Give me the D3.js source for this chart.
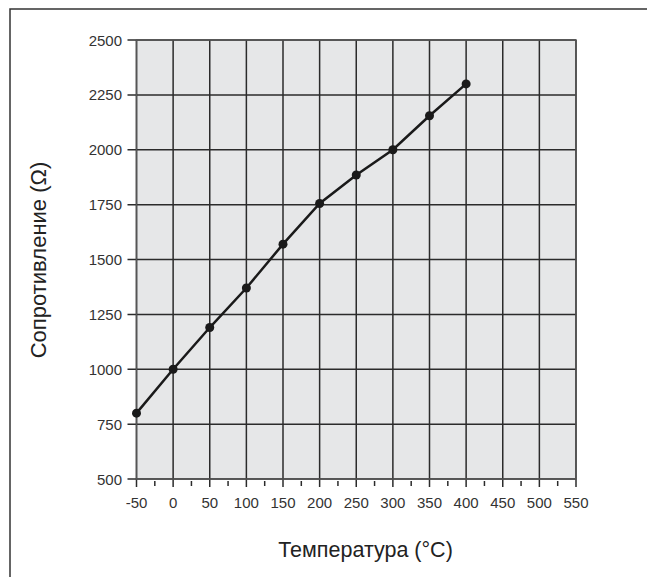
<!DOCTYPE html>
<html>
<head>
<meta charset="utf-8">
<script src="https://cdn.jsdelivr.net/npm/d3@7"></script>
<style>
  body { margin: 0; background: #fff; }
  text { font-family: "Liberation Sans", Arial, sans-serif; }
</style>
</head>
<body>
<script>
var temperatura = [-50, 0, 50, 100, 150, 200, 250, 300, 350, 400];
var soprotivlenie = [800, 1000, 1190, 1370, 1570, 1755, 1885, 2000, 2155, 2300];
var xTicks = [-50, 0, 50, 100, 150, 200, 250, 300, 350, 400, 450, 500, 550];
var xMinor = [-25, 25, 75, 125, 175, 225, 275, 325, 375, 425, 475, 525];
var yTicks = [500, 750, 1000, 1250, 1500, 1750, 2000, 2250, 2500];

var margin = {top: 40, right: 71, bottom: 98, left: 136.5},
    width = 647 - margin.left - margin.right,
    height = 577 - margin.top - margin.bottom;

var data = temperatura.map(function(t, i) { return {t: t, r: soprotivlenie[i]}; });

var svg = d3.select("body").append("svg")
    .attr("width", 647)
    .attr("height", 577);

// outer frame (runs off the right and bottom edges)
svg.append("path")
    .attr("d", "M10,600 L10,9 L660,9")
    .style("fill", "none")
    .style("stroke", "#333")
    .style("stroke-width", 1.5);

var g = svg.append("g")
    .attr("transform", "translate(" + margin.left + "," + margin.top + ")");

var x = d3.scaleLinear().domain([-50, 550]).range([0, width]);
var y = d3.scaleLinear().domain([500, 2500]).range([height, 0]);

g.append("rect")
    .attr("width", width)
    .attr("height", height)
    .style("fill", "#e6e7e8");

// grid
g.selectAll(".vgrid")
    .data(xTicks)
  .enter().append("line")
    .attr("x1", function(d) { return x(d); })
    .attr("x2", function(d) { return x(d); })
    .attr("y1", 0)
    .attr("y2", height + 8)
    .style("stroke", "#2b2b2b")
    .style("stroke-width", 1.5);

g.selectAll(".hgrid")
    .data(yTicks)
  .enter().append("line")
    .attr("x1", -9)
    .attr("x2", width)
    .attr("y1", function(d) { return y(d); })
    .attr("y2", function(d) { return y(d); })
    .style("stroke", "#2b2b2b")
    .style("stroke-width", 1.5);

g.selectAll(".minor")
    .data(xMinor)
  .enter().append("line")
    .attr("x1", function(d) { return x(d); })
    .attr("x2", function(d) { return x(d); })
    .attr("y1", height + 2)
    .attr("y2", height + 7)
    .style("stroke", "#2b2b2b")
    .style("stroke-width", 1.5);

g.append("rect")
    .attr("width", width)
    .attr("height", height)
    .style("fill", "none")
    .style("stroke", "#555")
    .style("stroke-width", 1.5);

// tick labels
g.selectAll(".xlab")
    .data(xTicks)
  .enter().append("text")
    .attr("x", function(d) { return x(d); })
    .attr("y", height + 29)
    .attr("text-anchor", "middle")
    .style("font-size", "15px")
    .style("fill", "#333")
    .text(function(d) { return d; });

g.selectAll(".ylab")
    .data(yTicks)
  .enter().append("text")
    .attr("x", -14.5)
    .attr("y", function(d) { return y(d) + 5.5; })
    .attr("text-anchor", "end")
    .style("font-size", "15px")
    .style("fill", "#333")
    .text(function(d) { return d; });

// series
var line = d3.line()
    .x(function(d) { return x(d.t); })
    .y(function(d) { return y(d.r); });

g.append("path")
    .data([data])
    .attr("d", line)
    .style("fill", "none")
    .style("stroke", "#1a1a1a")
    .style("stroke-width", 2.5);

g.selectAll(".dot")
    .data(data)
  .enter().append("circle")
    .attr("r", 4.5)
    .attr("cx", function(d) { return x(d.t); })
    .attr("cy", function(d) { return y(d.r); })
    .style("fill", "#1a1a1a");

// axis titles
svg.append("text")
    .attr("x", 365.5)
    .attr("y", 557)
    .attr("text-anchor", "middle")
    .style("font-size", "21.5px")
    .style("fill", "#222")
    .text("Температура (°C)");

svg.append("text")
    .attr("transform", "translate(46,260) rotate(-90)")
    .attr("text-anchor", "middle")
    .style("font-size", "22px")
    .style("fill", "#222")
    .text("Сопротивление (Ω)");
</script>
</body>
</html>
